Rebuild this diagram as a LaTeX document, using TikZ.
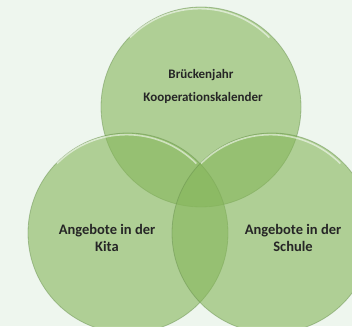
\documentclass[tikz,border=0pt]{standalone}
\usepackage{fontspec}
\setmainfont{Carlito}[Ligatures=NoCommon]
\usetikzlibrary{positioning}
\definecolor{bgmint}{RGB}{238,246,238}
\definecolor{leafgreen}{RGB}{134,182,91}
\definecolor{rimgreen}{RGB}{100,140,75}

\begin{document}
\begin{tikzpicture}[x=1pt,y=1pt]
  \tikzset{ring/.style = {shape=circle,minimum size=200pt,inner sep=0pt,fill=leafgreen,fill opacity=0.6,draw=rimgreen,draw opacity=0.45,line width=0.8pt}}
  \tikzset{gloss/.style = {white,opacity=0.55,line width=1.6pt}}
  \tikzset{vtext/.style = {align=center,font=\bfseries\fontsize{13}{17}\selectfont,text=black!85}}
  \tikzset{vtextbig/.style = {vtext,font=\bfseries\fontsize{14.5}{17}\selectfont}}

  \useasboundingbox (0,0) rectangle (352,326);
  \clip (0,0) rectangle (352,326);
  \fill[bgmint] (0,0) rectangle (352,326);

	\node[ring] (TOP) at (201,219) {};
	\node[ring] (KITA) at (128,93) {};
	\node[ring] (SCHULE) at (272,93) {};

    \foreach \c in {TOP,KITA,SCHULE}
    \draw[gloss] ([shift={(0,-1.5)}]\c.135) arc[start angle=135,end angle=45,radius=98.5pt];

	\node[vtext] (BJ) at (201,251) {Brückenjahr};
	\node[vtext] (KK) at (203,228) {Kooperationskalender};
	\node[vtextbig] (KT) at (107,88) {Angebote in der\\Kita};
	\node[vtextbig] (SC) at (293,88) {Angebote in der\\Schule};

\end{tikzpicture}
\end{document}
